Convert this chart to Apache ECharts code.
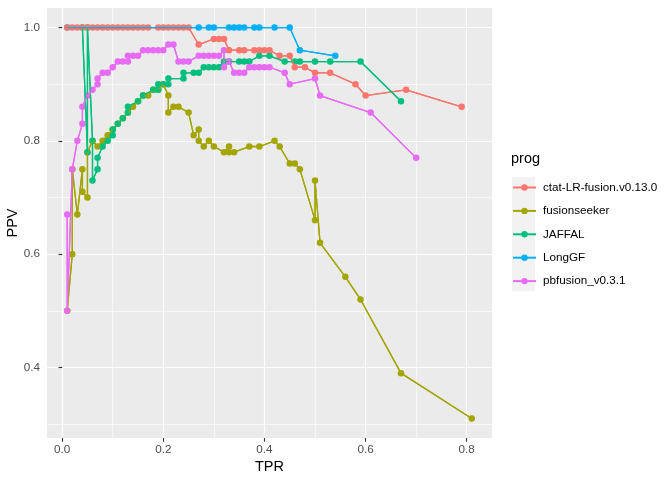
<!DOCTYPE html>
<html>
<head>
<meta charset="utf-8">
<script src="https://cdn.jsdelivr.net/npm/echarts@6/dist/echarts.min.js"></script>
<style>
  html, body { margin: 0; padding: 0; background: #fff; }
  #main { width: 672px; height: 480px; }
</style>
</head>
<body>
<div id="main"></div>
<script>
// 数据: 每个程序的 TPR / PPV
var progNames = ['ctat-LR-fusion.v0.13.0', 'fusionseeker', 'JAFFAL', 'LongGF', 'pbfusion_v0.3.1']
var progColors = ['#F8766D', '#A3A500', '#00BF7D', '#00B0F6', '#E76BF3']

var ctatTPR = [0.01,0.02,0.03,0.04,0.05,0.06,0.07,0.08,0.09,0.10,0.11,0.12,0.13,0.14,0.15,0.16,0.17,
  0.19,0.20,0.21,0.22,0.23,0.24,0.25,0.27,0.30,0.31,0.32,0.33,0.35,0.36,0.38,0.39,0.40,0.41,
  0.43,0.45,0.46,0.48,0.50,0.53,0.58,0.60,0.68,0.79]
var ctatPPV = [1,1,1,1,1,1,1,1,1,1,1,1,1,1,1,1,1,
  1,1,1,1,1,1,1,0.97,0.98,0.98,0.98,0.96,0.96,0.96,0.96,0.96,0.96,0.96,
  0.95,0.95,0.93,0.93,0.92,0.92,0.90,0.88,0.89,0.86]

var fsTPR = [0.01,0.02,0.02,0.03,0.04,0.04,0.05,0.05,0.06,0.07,0.08,0.09,0.10,0.11,0.12,0.13,0.14,0.15,
  0.16,0.17,0.18,0.19,0.20,0.21,0.21,0.22,0.23,0.25,0.26,0.27,0.27,0.28,0.29,0.30,0.32,0.33,0.33,0.34,
  0.37,0.39,0.42,0.43,0.45,0.46,0.47,0.50,0.50,0.51,0.56,0.59,0.67,0.81]
var fsPPV = [0.50,0.60,0.75,0.67,0.75,0.71,0.70,0.78,0.80,0.79,0.80,0.81,0.82,0.83,0.84,0.85,0.86,0.87,
  0.88,0.88,0.89,0.89,0.90,0.88,0.85,0.86,0.86,0.85,0.81,0.82,0.80,0.79,0.80,0.79,0.78,0.79,0.78,0.78,
  0.79,0.79,0.80,0.79,0.76,0.76,0.75,0.66,0.73,0.62,0.56,0.52,0.39,0.31]

var jaffalTPR = [0.04,0.05,0.05,0.06,0.06,0.07,0.07,0.08,0.09,0.10,0.10,0.11,0.12,0.13,0.13,0.15,0.16,
  0.18,0.19,0.19,0.20,0.21,0.21,0.24,0.24,0.26,0.27,0.28,0.29,0.30,0.31,0.32,0.33,0.35,0.36,0.37,
  0.39,0.41,0.44,0.46,0.47,0.50,0.53,0.59,0.67]
var jaffalPPV = [1,0.78,1,0.80,0.73,0.75,0.77,0.79,0.80,0.81,0.82,0.83,0.84,0.85,0.86,0.87,0.88,
  0.89,0.89,0.90,0.90,0.90,0.91,0.91,0.92,0.92,0.92,0.93,0.93,0.93,0.93,0.94,0.94,0.94,0.94,0.94,
  0.95,0.95,0.94,0.94,0.94,0.94,0.94,0.94,0.87]

var longgfTPR = [0.01,0.27,0.29,0.30,0.33,0.34,0.35,0.36,0.38,0.39,0.42,0.45,0.47,0.54]
var longgfPPV = [1,1,1,1,1,1,1,1,1,1,1,1,0.96,0.95]

var pbTPR = [0.01,0.01,0.02,0.03,0.04,0.04,0.05,0.06,0.07,0.07,0.08,0.09,0.10,0.11,0.12,0.13,0.13,0.14,
  0.15,0.16,0.17,0.18,0.19,0.20,0.21,0.22,0.23,0.24,0.25,0.27,0.28,0.29,0.30,0.31,0.32,0.32,0.33,
  0.34,0.35,0.36,0.37,0.38,0.39,0.40,0.41,0.44,0.45,0.50,0.51,0.61,0.70]
var pbPPV = [0.67,0.50,0.75,0.80,0.83,0.86,0.88,0.89,0.90,0.91,0.92,0.92,0.93,0.94,0.94,0.94,0.95,0.95,
  0.95,0.96,0.96,0.96,0.96,0.96,0.97,0.97,0.94,0.94,0.94,0.95,0.95,0.95,0.95,0.95,0.96,0.93,0.94,
  0.92,0.92,0.92,0.93,0.93,0.93,0.93,0.93,0.92,0.90,0.91,0.88,0.85,0.77]

// 坐标轴刻度
var xTicks = [0, 0.2, 0.4, 0.6, 0.8]
var xGrid = [0, 0.1, 0.2, 0.3, 0.4, 0.5, 0.6, 0.7, 0.8]
var yTicks = [0.4, 0.6, 0.8, 1.0]
var yGrid = [0.3, 0.4, 0.5, 0.6, 0.7, 0.8, 0.9, 1.0]

var allTPR = [ctatTPR, fsTPR, jaffalTPR, longgfTPR, pbTPR]
var allPPV = [ctatPPV, fsPPV, jaffalPPV, longgfPPV, pbPPV]

function pairs(xs, ys) {
  var out = []
  for (var i = 0; i < xs.length; i++) {
    out.push([xs[i], ys[i]])
  }
  return out
}

// ggplot 风格的范围 (5% 扩展)
var xMin = 0.01, xMax = 0.81, yMin = 0.31, yMax = 1.0
var xPad = (xMax - xMin) * 0.05, yPad = (yMax - yMin) * 0.05

var series = []
// 先画点, 再画线 (线在点上面)
for (var i = 0; i < progNames.length; i++) {
  series.push({
    name: progNames[i],
    type: 'line',
    data: pairs(allTPR[i], allPPV[i]),
    symbol: 'circle',
    symbolSize: 6.5,
    showSymbol: true,
    z: i == 0 ? 3 : 2,
    itemStyle: { color: progColors[i] },
    lineStyle: { color: progColors[i], width: 1.3 },
    animation: false
  })
}
for (var j = 0; j < progNames.length; j++) {
  series.push({
    name: progNames[j],
    type: 'line',
    data: pairs(allTPR[j], allPPV[j]),
    showSymbol: false,
    symbol: 'none',
    silent: true,
    z: 4,
    itemStyle: { color: progColors[j] },
    lineStyle: { color: progColors[j], width: 1.3 },
    animation: false
  })
}

var fmt = function (v) { return Number(v).toFixed(1) }
var minorCol = 'rgba(255,255,255,0.6)'

var myChart = echarts.init(document.getElementById('main'))
myChart.setOption({
  animation: false,
  textStyle: { fontFamily: 'Liberation Sans, Arial, sans-serif' },
  title: {
    text: 'prog', left: 506, top: 146,
    textStyle: { fontSize: 14.5, fontWeight: 'normal', color: '#000', fontFamily: 'Liberation Sans' }
  },
  graphic: [{
    type: 'rect', left: 512, top: 177, z: -1,
    shape: { width: 23, height: 114 },
    style: { fill: '#F2F2F2' }
  }],
  legend: {
    data: progNames,
    orient: 'vertical',
    left: 507, top: 175.5,
    itemWidth: 23, itemHeight: 8, itemGap: 9.4,
    textStyle: { fontSize: 11.7, color: '#000', lineHeight: 14, padding: [0, 0, 0, 2], fontFamily: 'Liberation Sans' }
  },
  grid: {
    left: 47, right: 180, top: 8, bottom: 42,
    outerBoundsMode: 'none',
    show: true, backgroundColor: '#EBEBEB', borderWidth: 0
  },
  xAxis: [{
    type: 'value', min: xMin - xPad, max: xMax + xPad,
    axisLine: { show: false }, axisLabel: { show: false },
    axisTick: { show: false, customValues: xGrid },
    splitLine: { show: true, lineStyle: { color: ['#fff', minorCol], width: 1.2 } }
  }, {
    type: 'value', min: xMin - xPad, max: xMax + xPad, position: 'bottom',
    name: 'TPR', nameLocation: 'middle', nameGap: 21, nameMoveOverlap: false,
    nameTextStyle: { fontSize: 14.5, color: '#000', fontFamily: 'Liberation Sans' },
    axisLine: { show: false },
    splitLine: { show: false },
    axisTick: { show: true, length: 3.7, customValues: xTicks, lineStyle: { color: '#333', width: 1.1 } },
    axisLabel: { customValues: xTicks, formatter: fmt, color: '#4D4D4D', fontSize: 11.7, margin: 6 }
  }],
  yAxis: [{
    type: 'value', min: yMin - yPad, max: yMax + yPad,
    axisLine: { show: false }, axisLabel: { show: false },
    axisTick: { show: false, customValues: yGrid },
    splitLine: { show: true, lineStyle: { color: [minorCol, '#fff'], width: 1.2 } }
  }, {
    type: 'value', min: yMin - yPad, max: yMax + yPad, position: 'left',
    name: 'PPV', nameLocation: 'middle', nameGap: 27, nameRotate: 90, nameMoveOverlap: false,
    nameTextStyle: { fontSize: 14.5, color: '#000', fontFamily: 'Liberation Sans' },
    axisLine: { show: false },
    splitLine: { show: false },
    axisTick: { show: true, length: 3.7, customValues: yTicks, lineStyle: { color: '#333', width: 1.1 } },
    axisLabel: { customValues: yTicks, formatter: fmt, color: '#4D4D4D', fontSize: 11.7, margin: 7 }
  }],
  series: series
})
</script>
</body>
</html>
